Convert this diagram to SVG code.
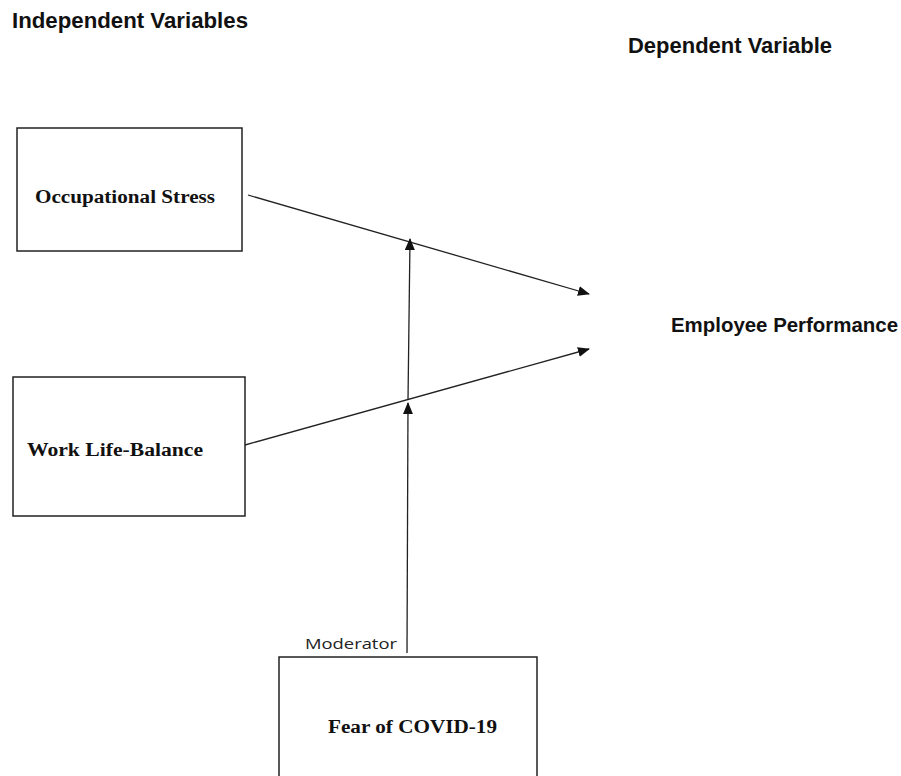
<svg xmlns="http://www.w3.org/2000/svg" width="901" height="776" viewBox="0 0 901 776">
<style>
.hdr{font-family:"Liberation Sans",Arial,sans-serif;font-weight:bold;fill:#111}
.lbl{font-family:"Liberation Serif","Times New Roman",serif;font-weight:bold;font-size:18px;fill:#111}
.box{fill:#fff;stroke:#222;stroke-width:1.5}
.con{stroke:#222;stroke-width:1.3;fill:none;marker-end:url(#ah)}
.mod{font-family:"Open Sans","Liberation Sans",sans-serif;font-size:15px;fill:#222}
</style>
<defs>
<marker id="ah" markerWidth="12" markerHeight="10" refX="11" refY="5" orient="auto" markerUnits="userSpaceOnUse">
<path d="M0,0 L12,5 L0,10 Z" fill="#111"/>
</marker>
</defs>
<rect width="901" height="776" fill="#fff"/>
<text class="hdr" x="12" y="28" font-size="22" textLength="236" lengthAdjust="spacingAndGlyphs">Independent Variables</text>
<text class="hdr" x="628" y="53" font-size="22" textLength="204" lengthAdjust="spacingAndGlyphs">Dependent Variable</text>
<g id="occupational-stress">
<rect class="box" x="17" y="128" width="225" height="123"/>
<text class="lbl" x="35" y="203" textLength="180" lengthAdjust="spacingAndGlyphs">Occupational Stress</text>
</g>
<g id="work-life-balance">
<rect class="box" x="13" y="377" width="232" height="139"/>
<text class="lbl" x="27" y="456" textLength="176" lengthAdjust="spacingAndGlyphs">Work Life-Balance</text>
</g>
<g id="employee-performance">
<text class="hdr" x="671" y="332" font-size="20" textLength="227" lengthAdjust="spacingAndGlyphs">Employee Performance</text>
</g>
<g id="fear-of-covid">
<rect class="box" x="279" y="657" width="258" height="130"/>
<text class="lbl" x="328" y="733" textLength="169" lengthAdjust="spacingAndGlyphs">Fear of COVID-19</text>
</g>
<g id="connectors">
<line class="con" x1="248" y1="195" x2="589" y2="294"/>
<line class="con" x1="245" y1="445" x2="589" y2="349"/>
<line class="con" x1="408" y1="400" x2="410" y2="239" stroke="#444"/>
<line class="con" x1="407" y1="653" x2="408" y2="403" stroke="#444"/>
<text class="mod" x="305" y="649" textLength="92" lengthAdjust="spacingAndGlyphs">Moderator</text>
</g>
</svg>
